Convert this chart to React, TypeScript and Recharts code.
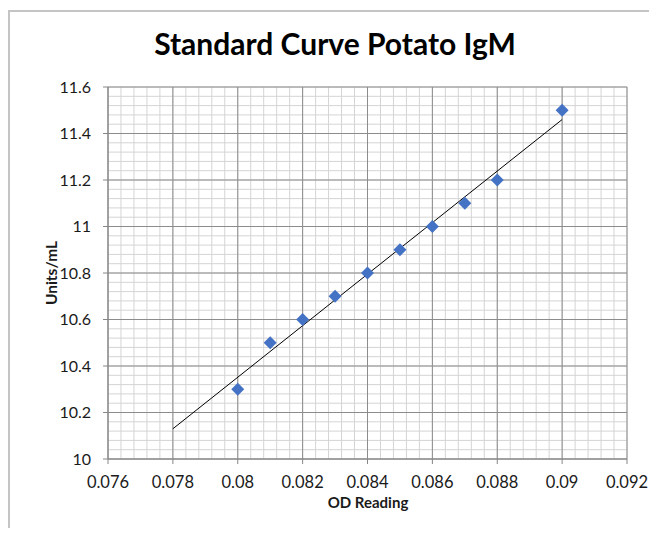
import React from 'react'
import {
  ScatterChart,
  Scatter,
  XAxis,
  YAxis,
  CartesianGrid,
} from 'recharts'

// readings
const odReading = [0.08, 0.081, 0.082, 0.083, 0.084, 0.085, 0.086, 0.087, 0.088, 0.09]
const unitsPerMl = [10.3, 10.5, 10.6, 10.7, 10.8, 10.9, 11.0, 11.1, 11.2, 11.5]

// linear trendline end points
const trendX = [0.078, 0.09]
const trendY = [10.13, 11.46]

const xTicks = [0.076, 0.078, 0.08, 0.082, 0.084, 0.086, 0.088, 0.09, 0.092]
const yTicks = [10, 10.2, 10.4, 10.6, 10.8, 11, 11.2, 11.4, 11.6]
const xDomain = [0.076, 0.092]
const yDomain = [10, 11.6]

// minor gridlines: 5 steps per major interval
const xMinor = Array.from({ length: 41 }, (_, i) => +(0.076 + i * 0.0004).toFixed(4))
const yMinor = Array.from({ length: 41 }, (_, i) => +(10 + i * 0.04).toFixed(2))

const points = odReading.map((x, i) => ({ x, y: unitsPerMl[i] }))
const trend = trendX.map((x, i) => ({ x, y: trendY[i] }))

const FONT = 'Lato, "Open Sans", sans-serif'
const AXIS = '#868686'

const fmt = (v: number) => String(+v.toFixed(3))

const Diamond = (props: any) => {
  const { cx, cy } = props
  const r = 6.5
  return (
    <polygon
      points={`${cx},${cy - r} ${cx + r},${cy} ${cx},${cy + r} ${cx - r},${cy}`}
      fill="#4472C4"
    />
  )
}

const NoDot = () => <g />

const minorV = ({ xAxis, offset }: any) => {
  const s = xAxis?.scale
  return xMinor.map((v) =>
    typeof s === 'function'
      ? s(v)
      : offset.left + ((v - xDomain[0]) / (xDomain[1] - xDomain[0])) * offset.width
  )
}

const minorH = ({ yAxis, offset }: any) => {
  const s = yAxis?.scale
  return yMinor.map((v) =>
    typeof s === 'function'
      ? s(v)
      : offset.top + offset.height - ((v - yDomain[0]) / (yDomain[1] - yDomain[0])) * offset.height
  )
}

export default function App() {
  return (
    <div style={{ position: 'relative', width: 641, height: 520, overflow: 'hidden', fontFamily: FONT }}>
      <div
        style={{
          position: 'absolute',
          left: 0,
          top: 2,
          width: 700,
          height: 600,
          borderTop: '2px solid #c4c4c4',
          borderLeft: '2px solid #c4c4c4',
          pointerEvents: 'none',
        }}
      />
      <ScatterChart
        width={641}
        height={520}
        margin={{ top: 79, right: 22, bottom: 39, left: 0 }}
      >
        <CartesianGrid
          stroke="#d4d4d4"
          strokeWidth={1}
          verticalCoordinatesGenerator={minorV}
          horizontalCoordinatesGenerator={minorH}
        />
        <CartesianGrid stroke="#8c8c8c" strokeWidth={1} />
        <XAxis
          dataKey="x"
          type="number"
          domain={xDomain}
          ticks={xTicks}
          interval={0}
          tickFormatter={fmt}
          height={30}
          tickSize={5}
          tickMargin={12}
          stroke={AXIS}
          tick={{ fill: '#1a1a1a', fontSize: 16.5, fontFamily: FONT }}
          allowDataOverflow
        />
        <YAxis
          dataKey="y"
          type="number"
          domain={yDomain}
          ticks={yTicks}
          interval={0}
          tickFormatter={fmt}
          width={100}
          tickSize={5}
          tickMargin={12}
          stroke={AXIS}
          tick={{ fill: '#1a1a1a', fontSize: 16, fontFamily: FONT }}
          allowDataOverflow
        />
        <Scatter
          data={trend}
          line={{ stroke: '#000', strokeWidth: 1 }}
          shape={NoDot}
          isAnimationActive={false}
        />
        <Scatter data={points} shape={Diamond} isAnimationActive={false} />
        <text x={327} y={47} textAnchor="middle" fontFamily={FONT} fontWeight="bold" fontSize={30} fill="#000">
          Standard Curve Potato IgM
        </text>
        <text x={360} y={500} textAnchor="middle" fontFamily={FONT} fontWeight="bold" fontSize={15} fill="#1a1a1a">
          OD Reading
        </text>
        <text
          x={49}
          y={265}
          textAnchor="middle"
          transform="rotate(-90 49 265)"
          fontFamily={FONT}
          fontWeight="bold"
          fontSize={15.5}
          fill="#1a1a1a"
        >
          Units/mL
        </text>
      </ScatterChart>
    </div>
  )
}
